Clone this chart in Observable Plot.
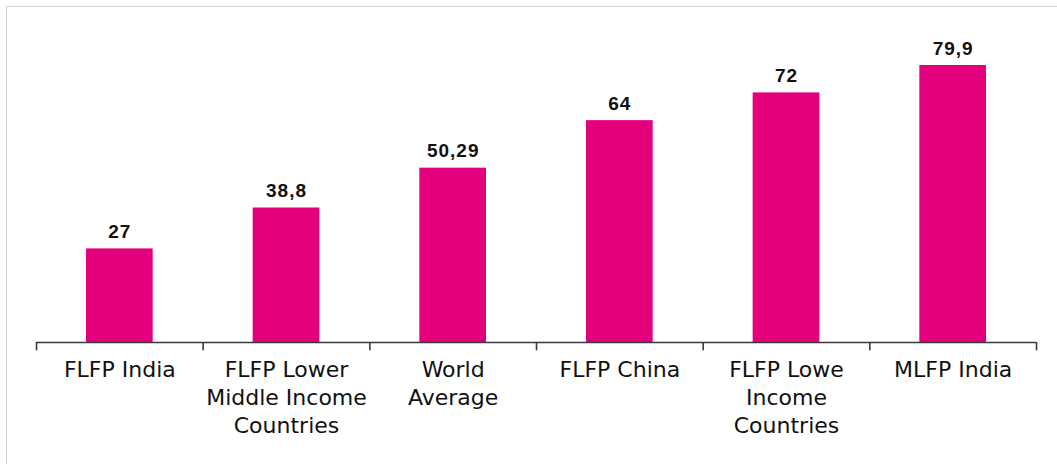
<!DOCTYPE html>
<html>
<head>
<meta charset="utf-8">
<script src="https://cdn.jsdelivr.net/npm/d3@7"></script>
<script src="https://cdn.jsdelivr.net/npm/@observablehq/plot@0.6"></script>
<style>
  html, body { margin: 0; padding: 0; background: #fff; }
  #wrap { position: relative; width: 1057px; height: 464px; overflow: hidden; }
  #edge { position: absolute; left: 5.5px; top: 5.5px; right: -10px; bottom: -10px;
          border-left: 1.4px solid #d2d2d2; border-top: 1.4px solid #d2d2d2; }
  #wrap svg { position: absolute; left: 0; top: 0; }
  #wrap svg g.value-label text { letter-spacing: 1px; }
</style>
</head>
<body>
<div id="wrap"><div id="edge"></div></div>
<script>
// Labour force participation rates (%)
const categories = [
  "FLFP India",
  "FLFP Lower\nMiddle Income\nCountries",
  "World\nAverage",
  "FLFP China",
  "FLFP Lowe\nIncome\nCountries",
  "MLFP India"
];
const values = [27, 38.8, 50.29, 64, 72, 79.9];
const valueLabels = ["27", "38,8", "50,29", "64", "72", "79,9"];

const rows = categories.map((c, i) => ({cat: c, value: values[i], label: valueLabels[i]}));

const W = 1057, H = 464;
const mLeft = 36, mRight = 21, mTop = 30, mBottom = 122;
const padInner = 0.6, padOuter = 0.3;
// width of one category band incl. its share of padding (for the separator ticks)
const step = (W - mLeft - mRight) / (categories.length - padInner + 2 * padOuter);

const chart = Plot.plot({
  width: W,
  height: H,
  marginLeft: mLeft,
  marginRight: mRight,
  marginTop: mTop,
  marginBottom: mBottom,
  style: {fontFamily: "'DejaVu Sans', sans-serif", background: "transparent", overflow: "visible"},
  x: {domain: categories, paddingInner: padInner, paddingOuter: padOuter, round: false, axis: null},
  y: {domain: [0, 90], axis: null},
  marks: [
    Plot.barY(rows, {x: "cat", y: "value", fill: "#e4007c"}),
    Plot.ruleY([0], {stroke: "#3a3a3a", strokeWidth: 1.6}),
    Plot.ruleX(categories, {x: d => d, y1: 0, y2: -2.4, dx: -step / 2, stroke: "#3a3a3a", strokeWidth: 1.6}),
    Plot.ruleX([categories[categories.length - 1]], {x: d => d, y1: 0, y2: -2.4, dx: step / 2, stroke: "#3a3a3a", strokeWidth: 1.6}),
    Plot.text(rows, {x: "cat", y: "value", text: "label", dy: -11, lineAnchor: "bottom",
      fontSize: 19, fontWeight: "bold", fontFamily: "'Liberation Sans', Arial, sans-serif",
      fill: "#111", className: "value-label"}),
    Plot.text(rows, {x: "cat", y: 0, text: "cat", lineAnchor: "top", dy: 14, lineHeight: 1.28,
      fontSize: 22, fill: "#111"})
  ]
});
document.getElementById("wrap").appendChild(chart);
</script>
</body>
</html>
